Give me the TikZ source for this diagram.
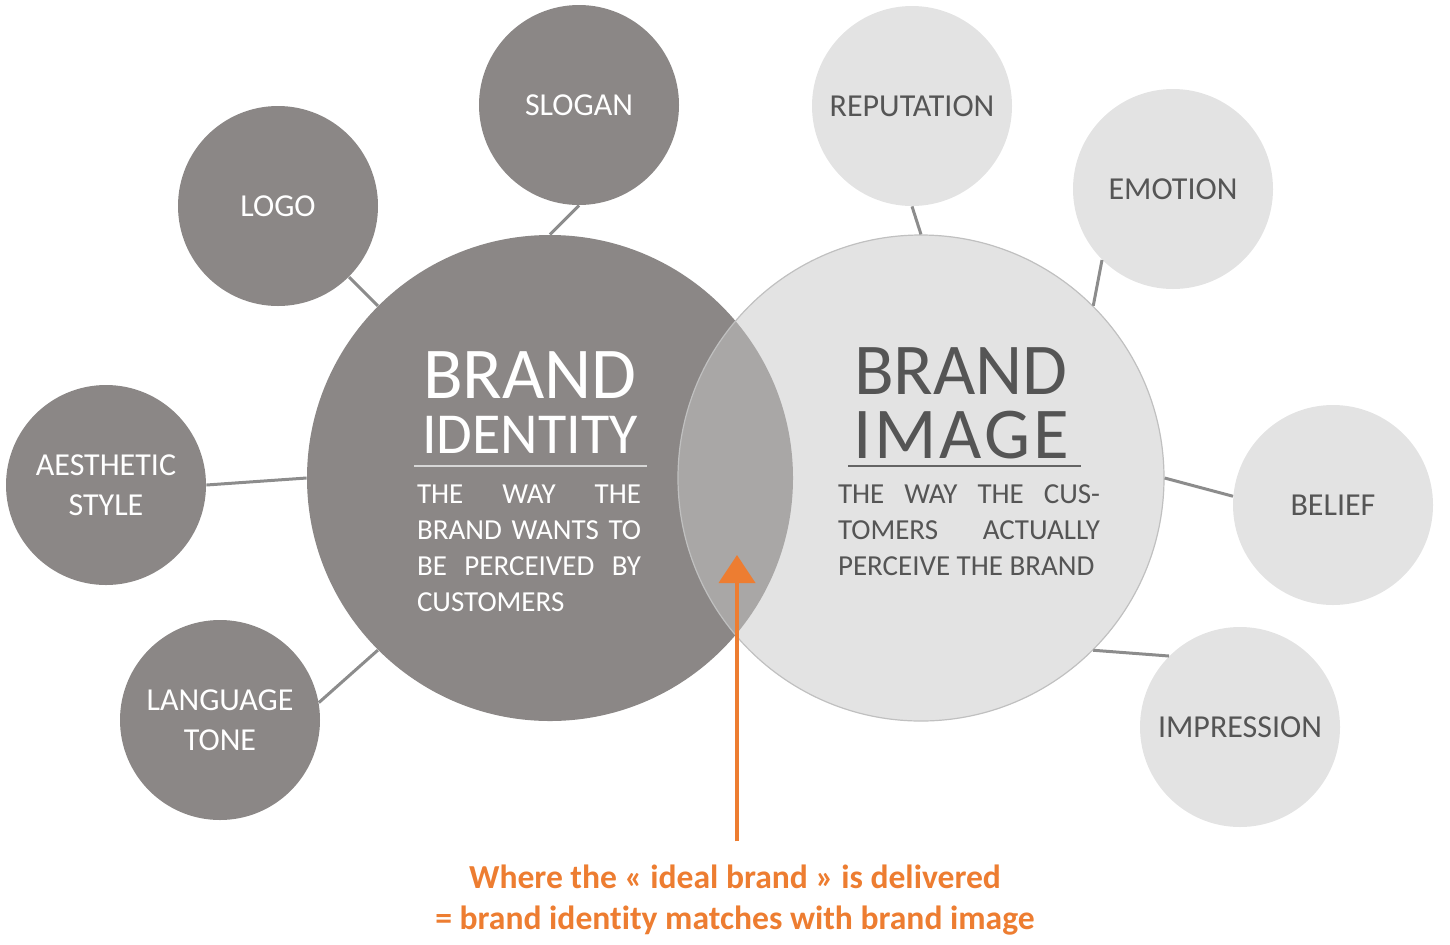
\documentclass[tikz,border=0pt]{standalone}
\usepackage{fontspec}
\setmainfont{Carlito}[Ligatures=NoCommon]
\usetikzlibrary{arrows.meta}

\definecolor{idgray}{RGB}{139,135,134}
\definecolor{imgray}{RGB}{227,227,227}
\definecolor{imfill}{RGB}{199,199,199}
\definecolor{imedge}{RGB}{192,192,192}
\definecolor{linkgray}{RGB}{140,140,140}
\definecolor{textdark}{RGB}{85,85,85}
\definecolor{rulelight}{RGB}{215,215,215}
\definecolor{ruledark}{RGB}{100,100,100}
\definecolor{brandorange}{RGB}{237,125,49}

\begin{document}
\begin{tikzpicture}[x=0.5pt,y=-0.5pt,
  bubble/.style={circle,minimum size=100pt,inner sep=0pt,align=center,font=\fontsize{16}{20}\selectfont},
  darkbubble/.style={bubble,fill=idgray,text=white},
  lightbubble/.style={bubble,fill=imgray,text=textdark},
  link/.style={draw=linkgray,line width=1.5pt},
  bigword/.style={inner sep=0pt,anchor=north,align=center},
  bodytext/.style={inner sep=0pt,anchor=north,align=justify,font=\fontsize{14.5}{18}\selectfont},
  deliverarrow/.style={draw=brandorange,line width=2pt,-{Triangle[width=18pt,length=14pt]}}
]
\useasboundingbox (0,0) rectangle (1450,944);

% the two big circles
\node[circle,fill=idgray,minimum size=243pt,inner sep=0pt] (identity) at (550,478) {};
\node[circle,fill=imfill,fill opacity=0.5,draw=imedge,line width=0.6pt,minimum size=243pt,inner sep=0pt] (image) at (921,478) {};

% identity side
\node[darkbubble] (slogan) at (579,105) {SLOGAN};
\node[darkbubble] (logo) at (278,206) {LOGO};
\node[darkbubble] (aesthetic) at (106,485) {AESTHETIC\\STYLE};
\node[darkbubble] (tone) at (220,720) {LANGUAGE\\TONE};

% image side
\node[lightbubble] (reputation) at (912,106) {REPUTATION};
\node[lightbubble] (emotion) at (1173,189) {EMOTION};
\node[lightbubble] (belief) at (1333,505) {BELIEF};
\node[lightbubble] (impression) at (1240,727) {IMPRESSION};

\draw[link] (slogan.south) -- (identity.north);
\draw[link] (logo.south east) -- (identity.north west);
\draw[link] (aesthetic.east) -- (identity.west);
\draw[link] (tone.10) -- (identity.south west);
\draw[link] (reputation.south) -- (image.north);
\draw[link] (emotion.south west) -- (image.north east);
\draw[link] (image.east) -- (belief.175);
\draw[link] (image.south east) -- (impression.north west);

% texts in the big circles
\node[bigword,text=white,font=\fontsize{36.5}{27.5}\selectfont] (idtitle) at (530,351) {BRAND\\{\fontsize{29}{27.5}\selectfont IDENTITY}};
\draw[draw=rulelight,line width=1pt] (414,466) -- (647,466);
\node[bodytext,text=white,text width=112pt] (idbody) at (529,484) {THE WAY THE\linebreak BRAND WANTS TO\linebreak BE PERCEIVED BY\linebreak CUSTOMERS};

\node[bigword,text=textdark,font=\fontsize{36.5}{32}\selectfont] (imtitle) at (961,347) {BRAND\\{\addfontfeature{LetterSpace=4}IMAGE}};
\draw[draw=ruledark,line width=1pt] (848,466) -- (1081,466);
\node[bodytext,text=textdark,text width=131pt] (imbody) at (969,484) {THE WAY THE CUS-\linebreak TOMERS ACTUALLY\linebreak PERCEIVE THE BRAND};

% where they meet
\node[inner sep=0pt,align=center,text=brandorange,font=\bfseries\fontsize{16.8}{20.5}\selectfont] (note) at (735,900) {Where the « ideal brand » is delivered\\= brand identity matches with brand image};
\coordinate (overlap) at (737,555);
\draw[deliverarrow,shorten <=11.5pt] (note.north -| overlap) -- (overlap);
\end{tikzpicture}
\end{document}
